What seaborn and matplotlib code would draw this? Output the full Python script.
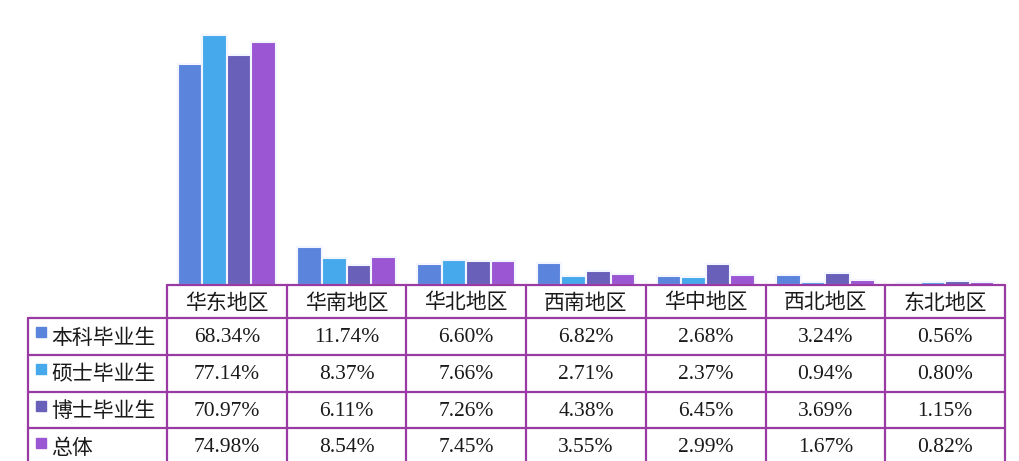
import pandas as pd
import seaborn as sns
import matplotlib.pyplot as plt

# 数据
regions = ['华东地区', '华南地区', '华北地区', '西南地区', '华中地区', '西北地区', '东北地区']
groups = ['本科毕业生', '硕士毕业生', '博士毕业生', '总体']
bachelor = [68.34, 11.74, 6.60, 6.82, 2.68, 3.24, 0.56]
master = [77.14, 8.37, 7.66, 2.71, 2.37, 0.94, 0.80]
doctor = [70.97, 6.11, 7.26, 4.38, 6.45, 3.69, 1.15]
overall = [74.98, 8.54, 7.45, 3.55, 2.99, 1.67, 0.82]
colors = ['#5B84DC', '#45A9EC', '#6960B9', '#9B57D3']
line_color = '#9A3AA3'

series = [bachelor, master, doctor, overall]
rows = []
for g, vals in zip(groups, series):
    for r, v in zip(regions, vals):
        rows.append({'地区': r, '类别': g, '比例': v})
df = pd.DataFrame(rows)

sns.set_style('white')
plt.rcParams['font.family'] = ['Noto Sans CJK SC', 'DejaVu Sans']

W, H = 1020, 461
fig = plt.figure(figsize=(W / 100, H / 100), dpi=100)

# 柱状图区域（像素位置）
left_px, right_px, base_px = 167, 1005, 285
ax = fig.add_axes([left_px / W, (H - base_px) / H, (right_px - left_px) / W, base_px / H])
sns.barplot(data=df, x='地区', y='比例', hue='类别', palette=colors, saturation=1,
            width=0.82, edgecolor='#F4F6FF', linewidth=1.5, ax=ax, legend=False)
ax.set_xlim(-0.5, len(regions) - 0.5)
ax.set_ylim(0, 88)
ax.set_axis_off()

# 数据表
tax = fig.add_axes([0, 0, 1, (H - base_px) / H])
tax.set_xlim(0, W)
tax.set_ylim(H, base_px)
tax.set_axis_off()

col_w = (right_px - left_px) / len(regions)
col_x = [left_px + i * col_w for i in range(len(regions) + 1)]
row_y = [base_px, 318, 355, 392, 428, 466]
label_x0 = 28
lw = 1.6

# 横线
tax.plot([left_px, right_px], [row_y[0], row_y[0]], color=line_color, lw=lw, clip_on=False)
for y in row_y[1:5]:
    tax.plot([label_x0, right_px], [y, y], color=line_color, lw=lw, clip_on=False)
# 竖线
for x in col_x:
    tax.plot([x, x], [row_y[0], H + 5], color=line_color, lw=lw, clip_on=False)
tax.plot([label_x0, label_x0], [row_y[1], H + 5], color=line_color, lw=lw, clip_on=False)

# 表头
for i, r in enumerate(regions):
    tax.text((col_x[i] + col_x[i + 1]) / 2, (row_y[0] + row_y[1]) / 2 + 1, r,
             ha='center', va='center', fontsize=15, color='#1a1a1a')

# 行
for j, (g, vals) in enumerate(zip(groups, series)):
    yc = (row_y[j + 1] + row_y[j + 2]) / 2 if j < 3 else (row_y[4] + row_y[4] + 37) / 2
    tax.add_patch(plt.Rectangle((36, yc - 9), 10, 10, color=colors[j], clip_on=False))
    tax.text(51, yc + 1, g, ha='left', va='center', fontsize=15, color='#1a1a1a')
    for i, v in enumerate(vals):
        tax.text((col_x[i] + col_x[i + 1]) / 2, yc + 1, f'{v:.2f}%',
                 ha='center', va='center', fontsize=15.5, color='#1a1a1a',
                 family='Liberation Serif')

fig.savefig('out.png', dpi=100)
